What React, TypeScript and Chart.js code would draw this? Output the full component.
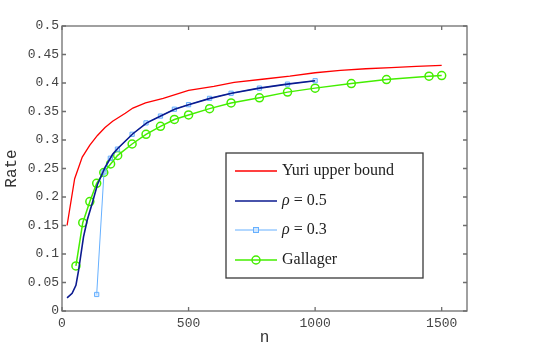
import React, { useEffect, useRef } from "react";
import { Chart, registerables } from "chart.js";

Chart.register(...registerables);

const yuriN = [20, 50, 80, 110, 140, 170, 200, 250, 280, 330, 400, 500, 600, 680, 800, 900, 1000, 1100, 1200, 1300, 1400, 1500];
const yuriRate = [0.15, 0.232, 0.27, 0.291, 0.308, 0.322, 0.333, 0.347, 0.356, 0.365, 0.373, 0.387, 0.394, 0.401, 0.407, 0.412, 0.418, 0.422, 0.425, 0.427, 0.429, 0.431];

const rho5N = [20, 40, 55, 65, 75, 85, 100, 120, 140, 170, 200, 220, 280, 335, 390, 445, 500, 585, 670, 780, 890, 1000];
const rho5Rate = [0.023, 0.031, 0.045, 0.07, 0.1, 0.13, 0.16, 0.19, 0.222, 0.252, 0.275, 0.285, 0.311, 0.33, 0.342, 0.354, 0.362, 0.373, 0.382, 0.391, 0.398, 0.404];

const rho3N = [137, 166, 191, 219, 277, 332, 389, 444, 500, 583, 668, 780, 891, 1000];
const rho3Rate = [0.029, 0.244, 0.268, 0.284, 0.31, 0.33, 0.342, 0.354, 0.362, 0.373, 0.382, 0.391, 0.398, 0.404];

const gallagerN = [55, 82, 110, 137, 165, 192, 220, 277, 332, 389, 444, 500, 583, 668, 780, 891, 1000, 1143, 1282, 1450, 1500];
const gallagerRate = [0.079, 0.155, 0.192, 0.224, 0.243, 0.258, 0.273, 0.293, 0.31, 0.324, 0.336, 0.344, 0.355, 0.365, 0.374, 0.384, 0.391, 0.399, 0.406, 0.412, 0.413];

const xTicks = [0, 500, 1000, 1500];
const yTicks = [0, 0.05, 0.1, 0.15, 0.2, 0.25, 0.3, 0.35, 0.4, 0.45, 0.5];

const RED = "#ff0000";
const NAVY = "#0b1a8f";
const LIGHTBLUE = "#66b0ff";
const GREEN = "#44ee00";
const AXIS = "#6e6e6e";

const toXY = (xs: number[], ys: number[]) => xs.map((x, i) => ({ x, y: ys[i] }));

const boxPlugin = {
  id: "matlabBox",
  afterDatasetsDraw(chart: any) {
    const { ctx, chartArea: a, scales } = chart;
    ctx.save();
    ctx.strokeStyle = AXIS;
    ctx.lineWidth = 1.3;
    ctx.strokeRect(a.left, a.top, a.right - a.left, a.bottom - a.top);
    const tl = 4;
    ctx.beginPath();
    xTicks.forEach((v) => {
      const px = scales.x.getPixelForValue(v);
      ctx.moveTo(px, a.bottom);
      ctx.lineTo(px, a.bottom - tl);
      ctx.moveTo(px, a.top);
      ctx.lineTo(px, a.top + tl);
    });
    yTicks.forEach((v) => {
      const py = scales.y.getPixelForValue(v);
      ctx.moveTo(a.left, py);
      ctx.lineTo(a.left + tl, py);
      ctx.moveTo(a.right, py);
      ctx.lineTo(a.right - tl, py);
    });
    ctx.stroke();

    // legend
    const lx = 226, ly = 153, lw = 197, lh = 125;
    ctx.fillStyle = "#ffffff";
    ctx.fillRect(lx, ly, lw, lh);
    ctx.strokeStyle = "#3a3a3a";
    ctx.lineWidth = 1.3;
    ctx.strokeRect(lx, ly, lw, lh);
    const rows = [
      { color: RED, width: 1.3, marker: "none", label: ["", "Yuri upper bound"] },
      { color: NAVY, width: 1.6, marker: "none", label: ["ρ", " = 0.5"] },
      { color: LIGHTBLUE, width: 1, marker: "rect", label: ["ρ", " = 0.3"] },
      { color: GREEN, width: 1.5, marker: "circle", label: ["", "Gallager"] },
    ];
    const rowY = [171, 201, 230, 260];
    rows.forEach((r, i) => {
      const y = rowY[i];
      ctx.strokeStyle = r.color;
      ctx.lineWidth = r.width;
      ctx.beginPath();
      ctx.moveTo(235, y);
      ctx.lineTo(277, y);
      ctx.stroke();
      if (r.marker === "rect") {
        ctx.lineWidth = 1;
        ctx.fillStyle = "#cfe6ff";
        ctx.fillRect(253.5, y - 2.5, 5, 5);
        ctx.strokeRect(253.5, y - 2.5, 5, 5);
      } else if (r.marker === "circle") {
        ctx.lineWidth = 1.5;
        ctx.beginPath();
        ctx.arc(256, y, 4, 0, Math.PI * 2);
        ctx.stroke();
      }
      ctx.fillStyle = "#222222";
      ctx.textBaseline = "middle";
      ctx.textAlign = "left";
      let tx = 282;
      if (r.label[0]) {
        ctx.font = "italic 16px 'Liberation Serif', serif";
        ctx.fillText(r.label[0], tx, y);
        tx += ctx.measureText(r.label[0]).width;
      }
      ctx.font = "16px 'Liberation Serif', serif";
      ctx.fillText(r.label[1], tx, y);
    });
    ctx.restore();
  },
};

export default function App() {
  const ref = useRef<HTMLCanvasElement | null>(null);
  useEffect(() => {
    if (!ref.current) return;
    const tickFont = { family: "'Liberation Mono', monospace", size: 13 };
    const chart = new Chart(ref.current, {
      type: "line",
      data: {
        datasets: [
          {
            label: "Yuri upper bound",
            data: toXY(yuriN, yuriRate),
            borderColor: RED,
            borderWidth: 1.3,
            pointRadius: 0,
            tension: 0,
          },
          {
            label: "ρ = 0.5",
            data: toXY(rho5N, rho5Rate),
            borderColor: NAVY,
            borderWidth: 1.6,
            pointRadius: 0,
            tension: 0,
          },
          {
            label: "ρ = 0.3",
            data: toXY(rho3N, rho3Rate),
            borderColor: LIGHTBLUE,
            backgroundColor: "rgba(200,225,255,0.6)",
            borderWidth: 1,
            pointStyle: "rect",
            pointRadius: 3,
            pointBorderWidth: 1,
            tension: 0,
          },
          {
            label: "Gallager",
            data: toXY(gallagerN, gallagerRate),
            borderColor: GREEN,
            backgroundColor: "rgba(0,0,0,0)",
            borderWidth: 1.5,
            pointStyle: "circle",
            pointRadius: 4,
            pointBorderWidth: 1.5,
            tension: 0,
          },
        ],
      },
      options: {
        animation: false,
        responsive: false,
        maintainAspectRatio: false,
        layout: { padding: { left: 0, top: 26, right: 78, bottom: 0 } },
        plugins: { legend: { display: false }, tooltip: { enabled: false } },
        scales: {
          x: {
            type: "linear",
            min: 0,
            max: 1600,
            grid: { display: false, drawTicks: false },
            border: { display: false },
            afterFit: (s: any) => {
              s.height = 50;
            },
            afterBuildTicks: (s: any) => {
              s.ticks = xTicks.map((v) => ({ value: v }));
            },
            ticks: {
              font: tickFont,
              color: "#444",
              padding: 5,
              maxRotation: 0,
              callback: (v: any) => String(v),
            },
            title: {
              display: true,
              text: "n",
              font: { family: "'Liberation Mono', monospace", size: 16 },
              color: "#333",
              padding: { top: 0, bottom: 14 },
            },
          },
          y: {
            type: "linear",
            min: 0,
            max: 0.5,
            grid: { display: false, drawTicks: false },
            border: { display: false },
            afterFit: (s: any) => {
              s.width = 62;
            },
            afterBuildTicks: (s: any) => {
              s.ticks = yTicks.map((v) => ({ value: v }));
            },
            ticks: {
              font: tickFont,
              color: "#444",
              padding: 3,
              callback: (v: any) => String(Number(Number(v).toFixed(2))),
            },
            title: {
              display: true,
              text: "Rate",
              font: { family: "'Liberation Mono', monospace", size: 16 },
              color: "#333",
              padding: { top: 2, bottom: 0 },
            },
          },
        },
      },
      plugins: [boxPlugin],
    });
    return () => chart.destroy();
  }, []);
  return (
    <div style={{ position: "fixed", left: 0, top: 0, width: 545, height: 361, background: "#fff" }}>
      <canvas ref={ref} width={545} height={361} style={{ width: 545, height: 361, display: "block" }} />
    </div>
  );
}
